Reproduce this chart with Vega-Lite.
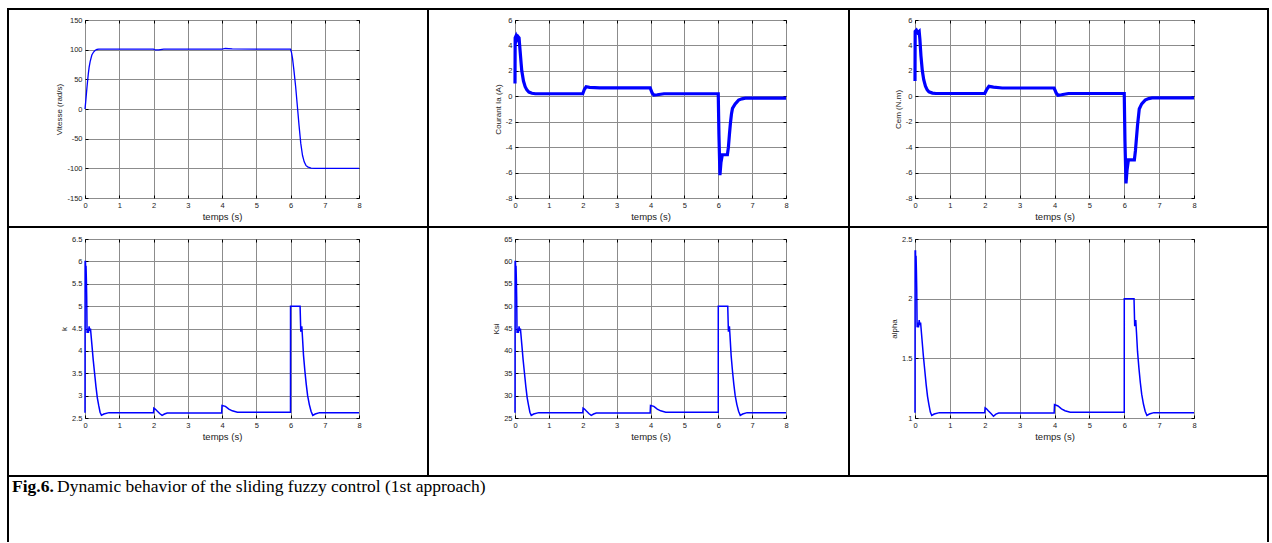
{
"$schema": "https://vega.github.io/schema/vega-lite/v6.json",
"background": "white",
"padding": {"left": 7, "top": 8, "right": 0, "bottom": 0},
"autosize": {"type": "pad"},
"columns": 13,
"spacing": 0,
"bounds": "flush",
"datasets": {
"e": [],
"vit": [{"t":0,"v":0},{"t":0.02,"v":12},{"t":0.04,"v":25},{"t":0.06,"v":38},{"t":0.08,"v":50},{"t":0.1,"v":61},{"t":0.12,"v":70},{"t":0.15,"v":80},{"t":0.2,"v":91},{"t":0.25,"v":96},{"t":0.3,"v":99},{"t":0.35,"v":100.3},{"t":0.4,"v":100.8},{"t":0.5,"v":101},{"t":2.0,"v":101},{"t":2.05,"v":99.5},{"t":2.15,"v":99.5},{"t":2.3,"v":100.8},{"t":4.0,"v":101},{"t":4.1,"v":102},{"t":4.3,"v":101.5},{"t":5.0,"v":101},{"t":6.0,"v":101},{"t":6.03,"v":95},{"t":6.06,"v":85},{"t":6.1,"v":65},{"t":6.15,"v":38},{"t":6.2,"v":5},{"t":6.25,"v":-28},{"t":6.3,"v":-58},{"t":6.35,"v":-78},{"t":6.4,"v":-89},{"t":6.45,"v":-95},{"t":6.5,"v":-97.5},{"t":6.6,"v":-99.5},{"t":6.7,"v":-100},{"t":8,"v":-100}],
"ia": [{"t":0,"v":1},{"t":0.005,"v":4.6},{"t":0.03,"v":4.75},{"t":0.06,"v":4.5},{"t":0.09,"v":4.7},{"t":0.12,"v":4.6},{"t":0.15,"v":3.6},{"t":0.18,"v":2.6},{"t":0.2,"v":2.0},{"t":0.25,"v":1.2},{"t":0.3,"v":0.75},{"t":0.35,"v":0.5},{"t":0.41,"v":0.33},{"t":0.5,"v":0.24},{"t":0.6,"v":0.2},{"t":2.0,"v":0.2},{"t":2.05,"v":0.55},{"t":2.1,"v":0.75},{"t":2.2,"v":0.7},{"t":2.5,"v":0.66},{"t":3.99,"v":0.66},{"t":4.05,"v":0.25},{"t":4.1,"v":0.1},{"t":4.2,"v":0.12},{"t":4.4,"v":0.2},{"t":6.0,"v":0.2},{"t":6.02,"v":-3},{"t":6.05,"v":-6.2},{"t":6.08,"v":-5.2},{"t":6.12,"v":-4.6},{"t":6.27,"v":-4.6},{"t":6.3,"v":-4.0},{"t":6.33,"v":-3.0},{"t":6.36,"v":-2.1},{"t":6.39,"v":-1.4},{"t":6.42,"v":-0.95},{"t":6.5,"v":-0.6},{"t":6.6,"v":-0.3},{"t":6.7,"v":-0.2},{"t":6.8,"v":-0.15},{"t":8,"v":-0.15}],
"cem": [{"t":0,"v":1.2},{"t":0.005,"v":5.1},{"t":0.04,"v":5.2},{"t":0.08,"v":5.0},{"t":0.12,"v":5.1},{"t":0.14,"v":4.5},{"t":0.17,"v":3.2},{"t":0.21,"v":2.0},{"t":0.25,"v":1.3},{"t":0.3,"v":0.8},{"t":0.35,"v":0.5},{"t":0.4,"v":0.35},{"t":0.5,"v":0.25},{"t":0.6,"v":0.22},{"t":2.0,"v":0.22},{"t":2.05,"v":0.5},{"t":2.12,"v":0.78},{"t":2.25,"v":0.72},{"t":2.5,"v":0.65},{"t":3.99,"v":0.65},{"t":4.05,"v":0.25},{"t":4.1,"v":0.08},{"t":4.2,"v":0.12},{"t":4.4,"v":0.22},{"t":6.0,"v":0.22},{"t":6.02,"v":-3.5},{"t":6.05,"v":-6.85},{"t":6.08,"v":-5.8},{"t":6.12,"v":-5.0},{"t":6.29,"v":-5.0},{"t":6.32,"v":-4.3},{"t":6.35,"v":-3.3},{"t":6.38,"v":-2.3},{"t":6.43,"v":-1.0},{"t":6.5,"v":-0.6},{"t":6.6,"v":-0.3},{"t":6.7,"v":-0.18},{"t":6.8,"v":-0.13},{"t":8,"v":-0.13}],
"k": [{"t":0,"v":2.62},{"t":0.003,"v":6.0},{"t":0.015,"v":6.0},{"t":0.02,"v":5.6},{"t":0.03,"v":5.9},{"t":0.04,"v":5.6},{"t":0.05,"v":5.2},{"t":0.06,"v":4.4},{"t":0.08,"v":4.5},{"t":0.1,"v":4.4},{"t":0.12,"v":4.55},{"t":0.14,"v":4.45},{"t":0.16,"v":4.5},{"t":0.2,"v":4.15},{"t":0.24,"v":3.8},{"t":0.28,"v":3.5},{"t":0.32,"v":3.2},{"t":0.36,"v":2.95},{"t":0.4,"v":2.78},{"t":0.44,"v":2.63},{"t":0.48,"v":2.56},{"t":0.55,"v":2.59},{"t":0.7,"v":2.62},{"t":2.0,"v":2.62},{"t":2.01,"v":2.72},{"t":2.05,"v":2.7},{"t":2.1,"v":2.66},{"t":2.18,"v":2.6},{"t":2.25,"v":2.56},{"t":2.32,"v":2.59},{"t":2.4,"v":2.61},{"t":3.99,"v":2.61},{"t":4.0,"v":2.78},{"t":4.1,"v":2.76},{"t":4.2,"v":2.7},{"t":4.3,"v":2.66},{"t":4.45,"v":2.63},{"t":6.0,"v":2.63},{"t":6.001,"v":5.0},{"t":6.28,"v":5.0},{"t":6.3,"v":4.43},{"t":6.31,"v":4.5},{"t":6.33,"v":4.55},{"t":6.35,"v":4.3},{"t":6.38,"v":3.9},{"t":6.42,"v":3.55},{"t":6.46,"v":3.25},{"t":6.5,"v":3.0},{"t":6.55,"v":2.8},{"t":6.6,"v":2.65},{"t":6.65,"v":2.56},{"t":6.72,"v":2.59},{"t":6.85,"v":2.62},{"t":8,"v":2.62}],
"ksi": [{"t":0,"v":26.2},{"t":0.003,"v":60},{"t":0.015,"v":60},{"t":0.02,"v":56},{"t":0.03,"v":59},{"t":0.04,"v":56},{"t":0.05,"v":52},{"t":0.06,"v":44},{"t":0.08,"v":45},{"t":0.1,"v":44},{"t":0.12,"v":45.5},{"t":0.14,"v":44.5},{"t":0.16,"v":45},{"t":0.2,"v":41.5},{"t":0.24,"v":38},{"t":0.28,"v":35},{"t":0.32,"v":32},{"t":0.36,"v":29.5},{"t":0.4,"v":27.8},{"t":0.44,"v":26.3},{"t":0.48,"v":25.6},{"t":0.55,"v":25.9},{"t":0.7,"v":26.2},{"t":2.0,"v":26.2},{"t":2.01,"v":27.2},{"t":2.05,"v":27},{"t":2.1,"v":26.6},{"t":2.18,"v":26},{"t":2.25,"v":25.6},{"t":2.32,"v":25.9},{"t":2.4,"v":26.1},{"t":3.99,"v":26.1},{"t":4.0,"v":27.8},{"t":4.1,"v":27.6},{"t":4.2,"v":27},{"t":4.3,"v":26.6},{"t":4.45,"v":26.3},{"t":6.0,"v":26.3},{"t":6.001,"v":50},{"t":6.28,"v":50},{"t":6.3,"v":44.3},{"t":6.31,"v":45},{"t":6.33,"v":45.5},{"t":6.35,"v":43},{"t":6.38,"v":39},{"t":6.42,"v":35.5},{"t":6.46,"v":32.5},{"t":6.5,"v":30},{"t":6.55,"v":28},{"t":6.6,"v":26.5},{"t":6.65,"v":25.6},{"t":6.72,"v":25.9},{"t":6.85,"v":26.2},{"t":8,"v":26.2}],
"alpha": [{"t":0,"v":1.045},{"t":0.003,"v":2.4},{"t":0.015,"v":2.4},{"t":0.02,"v":2.24},{"t":0.03,"v":2.36},{"t":0.04,"v":2.24},{"t":0.05,"v":2.08},{"t":0.06,"v":1.76},{"t":0.08,"v":1.8},{"t":0.1,"v":1.76},{"t":0.12,"v":1.82},{"t":0.14,"v":1.78},{"t":0.16,"v":1.8},{"t":0.2,"v":1.66},{"t":0.24,"v":1.52},{"t":0.28,"v":1.4},{"t":0.32,"v":1.28},{"t":0.36,"v":1.18},{"t":0.4,"v":1.11},{"t":0.44,"v":1.049},{"t":0.48,"v":1.021},{"t":0.55,"v":1.033},{"t":0.7,"v":1.045},{"t":2.0,"v":1.045},{"t":2.01,"v":1.085},{"t":2.05,"v":1.077},{"t":2.1,"v":1.061},{"t":2.18,"v":1.037},{"t":2.25,"v":1.015},{"t":2.32,"v":1.033},{"t":2.4,"v":1.041},{"t":3.99,"v":1.041},{"t":4.0,"v":1.112},{"t":4.1,"v":1.101},{"t":4.2,"v":1.077},{"t":4.3,"v":1.061},{"t":4.45,"v":1.049},{"t":6.0,"v":1.049},{"t":6.001,"v":2.0},{"t":6.28,"v":2.0},{"t":6.3,"v":1.77},{"t":6.31,"v":1.8},{"t":6.33,"v":1.82},{"t":6.35,"v":1.72},{"t":6.38,"v":1.56},{"t":6.42,"v":1.42},{"t":6.46,"v":1.3},{"t":6.5,"v":1.2},{"t":6.55,"v":1.117},{"t":6.6,"v":1.057},{"t":6.65,"v":1.021},{"t":6.72,"v":1.033},{"t":6.85,"v":1.045},{"t":8,"v":1.045}]
},
"config": {
"view": {"stroke": null},
"axis": {"labelFont": "Liberation Sans", "labelFontSize": 7.5, "labelColor": "#222", "titleFont": "Liberation Sans", "titleFontWeight": "normal", "titleColor": "#222", "grid": true, "gridColor": "#8c8c8c", "gridOpacity": 1, "gridWidth": 1, "domain": false, "ticks": true, "tickColor": "#000", "tickSize": -3, "labelPadding": 6, "titlePadding": 3, "labelFlush": false, "labelOverlap": false,
 "labelExpr": "datum.value < 0 ? '-' + format(-datum.value, '~g') : format(datum.value, '~g')"},
"axisX": {"titleFontSize": 9.5},
"axisY": {"titleFontSize": 8}
},
"concat": [
{"width":2,"height":2,"data":{"name":"e"},"mark":"point","view":{"fill":"#000"}},
{"width":76,"height":2,"data":{"name":"e"},"mark":"point","view":{"fill":"#000"}},
{"width":274,"height":2,"data":{"name":"e"},"mark":"point","view":{"fill":"#000"}},
{"width":68,"height":2,"data":{"name":"e"},"mark":"point","view":{"fill":"#000"}},
{"width":2,"height":2,"data":{"name":"e"},"mark":"point","view":{"fill":"#000"}},
{"width":86,"height":2,"data":{"name":"e"},"mark":"point","view":{"fill":"#000"}},
{"width":271,"height":2,"data":{"name":"e"},"mark":"point","view":{"fill":"#000"}},
{"width":62,"height":2,"data":{"name":"e"},"mark":"point","view":{"fill":"#000"}},
{"width":2,"height":2,"data":{"name":"e"},"mark":"point","view":{"fill":"#000"}},
{"width":65,"height":2,"data":{"name":"e"},"mark":"point","view":{"fill":"#000"}},
{"width":279,"height":2,"data":{"name":"e"},"mark":"point","view":{"fill":"#000"}},
{"width":73,"height":2,"data":{"name":"e"},"mark":"point","view":{"fill":"#000"}},
{"width":2,"height":2,"data":{"name":"e"},"mark":"point","view":{"fill":"#000"}},

{"width":2,"height":10,"data":{"name":"e"},"mark":"point","view":{"fill":"#000"}},
{"width":76,"height":10,"data":{"name":"e"},"mark":"point"},
{"width":274,"height":10,"data":{"name":"e"},"mark":"point"},
{"width":68,"height":10,"data":{"name":"e"},"mark":"point"},
{"width":2,"height":10,"data":{"name":"e"},"mark":"point","view":{"fill":"#000"}},
{"width":86,"height":10,"data":{"name":"e"},"mark":"point"},
{"width":271,"height":10,"data":{"name":"e"},"mark":"point"},
{"width":62,"height":10,"data":{"name":"e"},"mark":"point"},
{"width":2,"height":10,"data":{"name":"e"},"mark":"point","view":{"fill":"#000"}},
{"width":65,"height":10,"data":{"name":"e"},"mark":"point"},
{"width":279,"height":10,"data":{"name":"e"},"mark":"point"},
{"width":73,"height":10,"data":{"name":"e"},"mark":"point"},
{"width":2,"height":10,"data":{"name":"e"},"mark":"point","view":{"fill":"#000"}},

{"width":2,"height":178,"data":{"name":"e"},"mark":"point","view":{"fill":"#000"}},
{"width":76,"height":178,"data":{"name":"e"},"mark":"point"},
{"width":274,"height":178,"view":{"stroke":"#000","strokeWidth":1},"data":{"name":"vit"},
 "layer":[
 {"mark":{"type":"line","color":"#0000ff","strokeWidth":1.3},
  "encoding":{"x":{"field":"t","type":"quantitative","scale":{"domain":[0,8],"nice":false},"axis":{"title":"temps (s)","values":[0,1,2,3,4,5,6,7,8]}},
  "y":{"field":"v","type":"quantitative","scale":{"domain":[-150,150],"nice":false},"axis":{"title":"Vitesse (rad/s)","values":[-150,-100,-50,0,50,100,150]}}}},
 {"mark":{"type":"line","strokeOpacity":0},
  "encoding":{"x":{"field":"t","type":"quantitative","scale":{"domain":[0,8],"nice":false},"axis":{"orient":"top","labels":false,"title":null,"grid":false,"values":[0,1,2,3,4,5,6,7,8]}},
  "y":{"field":"v","type":"quantitative","scale":{"domain":[-150,150],"nice":false},"axis":{"orient":"right","labels":false,"title":null,"grid":false,"values":[-150,-100,-50,0,50,100,150]}}}}
 ],
 "resolve":{"axis":{"x":"independent","y":"independent"}}},
{"width":68,"height":178,"data":{"name":"e"},"mark":"point"},
{"width":2,"height":178,"data":{"name":"e"},"mark":"point","view":{"fill":"#000"}},
{"width":86,"height":178,"data":{"name":"e"},"mark":"point"},
{"width":271,"height":178,"view":{"stroke":"#000","strokeWidth":1},"data":{"name":"ia"},
 "layer":[
 {"mark":{"type":"line","color":"#0000ff","strokeWidth":3.2},
  "encoding":{"x":{"field":"t","type":"quantitative","scale":{"domain":[0,8],"nice":false},"axis":{"title":"temps (s)","values":[0,1,2,3,4,5,6,7,8]}},
  "y":{"field":"v","type":"quantitative","scale":{"domain":[-8,6],"nice":false},"axis":{"title":"Courant Ia (A)","values":[-8,-6,-4,-2,0,2,4,6]}}}},
 {"mark":{"type":"line","strokeOpacity":0},
  "encoding":{"x":{"field":"t","type":"quantitative","scale":{"domain":[0,8],"nice":false},"axis":{"orient":"top","labels":false,"title":null,"grid":false,"values":[0,1,2,3,4,5,6,7,8]}},
  "y":{"field":"v","type":"quantitative","scale":{"domain":[-8,6],"nice":false},"axis":{"orient":"right","labels":false,"title":null,"grid":false,"values":[-8,-6,-4,-2,0,2,4,6]}}}}
 ],
 "resolve":{"axis":{"x":"independent","y":"independent"}}},
{"width":62,"height":178,"data":{"name":"e"},"mark":"point"},
{"width":2,"height":178,"data":{"name":"e"},"mark":"point","view":{"fill":"#000"}},
{"width":65,"height":178,"data":{"name":"e"},"mark":"point"},
{"width":279,"height":178,"view":{"stroke":"#000","strokeWidth":1},"data":{"name":"cem"},
 "layer":[
 {"mark":{"type":"line","color":"#0000ff","strokeWidth":3.2},
  "encoding":{"x":{"field":"t","type":"quantitative","scale":{"domain":[0,8],"nice":false},"axis":{"title":"temps (s)","values":[0,1,2,3,4,5,6,7,8]}},
  "y":{"field":"v","type":"quantitative","scale":{"domain":[-8,6],"nice":false},"axis":{"title":"Cem (N.m)","values":[-8,-6,-4,-2,0,2,4,6]}}}},
 {"mark":{"type":"line","strokeOpacity":0},
  "encoding":{"x":{"field":"t","type":"quantitative","scale":{"domain":[0,8],"nice":false},"axis":{"orient":"top","labels":false,"title":null,"grid":false,"values":[0,1,2,3,4,5,6,7,8]}},
  "y":{"field":"v","type":"quantitative","scale":{"domain":[-8,6],"nice":false},"axis":{"orient":"right","labels":false,"title":null,"grid":false,"values":[-8,-6,-4,-2,0,2,4,6]}}}}
 ],
 "resolve":{"axis":{"x":"independent","y":"independent"}}},
{"width":73,"height":178,"data":{"name":"e"},"mark":"point"},
{"width":2,"height":178,"data":{"name":"e"},"mark":"point","view":{"fill":"#000"}},

{"width":2,"height":28,"data":{"name":"e"},"mark":"point","view":{"fill":"#000"}},
{"width":76,"height":28,"data":{"name":"e"},"mark":"point"},
{"width":274,"height":28,"data":{"name":"e"},"mark":"point"},
{"width":68,"height":28,"data":{"name":"e"},"mark":"point"},
{"width":2,"height":28,"data":{"name":"e"},"mark":"point","view":{"fill":"#000"}},
{"width":86,"height":28,"data":{"name":"e"},"mark":"point"},
{"width":271,"height":28,"data":{"name":"e"},"mark":"point"},
{"width":62,"height":28,"data":{"name":"e"},"mark":"point"},
{"width":2,"height":28,"data":{"name":"e"},"mark":"point","view":{"fill":"#000"}},
{"width":65,"height":28,"data":{"name":"e"},"mark":"point"},
{"width":279,"height":28,"data":{"name":"e"},"mark":"point"},
{"width":73,"height":28,"data":{"name":"e"},"mark":"point"},
{"width":2,"height":28,"data":{"name":"e"},"mark":"point","view":{"fill":"#000"}},

{"width":2,"height":2,"data":{"name":"e"},"mark":"point","view":{"fill":"#000"}},
{"width":76,"height":2,"data":{"name":"e"},"mark":"point","view":{"fill":"#000"}},
{"width":274,"height":2,"data":{"name":"e"},"mark":"point","view":{"fill":"#000"}},
{"width":68,"height":2,"data":{"name":"e"},"mark":"point","view":{"fill":"#000"}},
{"width":2,"height":2,"data":{"name":"e"},"mark":"point","view":{"fill":"#000"}},
{"width":86,"height":2,"data":{"name":"e"},"mark":"point","view":{"fill":"#000"}},
{"width":271,"height":2,"data":{"name":"e"},"mark":"point","view":{"fill":"#000"}},
{"width":62,"height":2,"data":{"name":"e"},"mark":"point","view":{"fill":"#000"}},
{"width":2,"height":2,"data":{"name":"e"},"mark":"point","view":{"fill":"#000"}},
{"width":65,"height":2,"data":{"name":"e"},"mark":"point","view":{"fill":"#000"}},
{"width":279,"height":2,"data":{"name":"e"},"mark":"point","view":{"fill":"#000"}},
{"width":73,"height":2,"data":{"name":"e"},"mark":"point","view":{"fill":"#000"}},
{"width":2,"height":2,"data":{"name":"e"},"mark":"point","view":{"fill":"#000"}},

{"width":2,"height":11,"data":{"name":"e"},"mark":"point","view":{"fill":"#000"}},
{"width":76,"height":11,"data":{"name":"e"},"mark":"point"},
{"width":274,"height":11,"data":{"name":"e"},"mark":"point"},
{"width":68,"height":11,"data":{"name":"e"},"mark":"point"},
{"width":2,"height":11,"data":{"name":"e"},"mark":"point","view":{"fill":"#000"}},
{"width":86,"height":11,"data":{"name":"e"},"mark":"point"},
{"width":271,"height":11,"data":{"name":"e"},"mark":"point"},
{"width":62,"height":11,"data":{"name":"e"},"mark":"point"},
{"width":2,"height":11,"data":{"name":"e"},"mark":"point","view":{"fill":"#000"}},
{"width":65,"height":11,"data":{"name":"e"},"mark":"point"},
{"width":279,"height":11,"data":{"name":"e"},"mark":"point"},
{"width":73,"height":11,"data":{"name":"e"},"mark":"point"},
{"width":2,"height":11,"data":{"name":"e"},"mark":"point","view":{"fill":"#000"}},

{"width":2,"height":179,"data":{"name":"e"},"mark":"point","view":{"fill":"#000"}},
{"width":76,"height":179,"data":{"name":"e"},"mark":"point"},
{"width":274,"height":179,"view":{"stroke":"#000","strokeWidth":1},"data":{"name":"k"},
 "layer":[
 {"mark":{"type":"line","color":"#0000ff","strokeWidth":1.5},
  "encoding":{"x":{"field":"t","type":"quantitative","scale":{"domain":[0,8],"nice":false},"axis":{"title":"temps (s)","values":[0,1,2,3,4,5,6,7,8]}},
  "y":{"field":"v","type":"quantitative","scale":{"domain":[2.5,6.5],"nice":false,"zero":false},"axis":{"title":"k","values":[2.5,3,3.5,4,4.5,5,5.5,6,6.5]}}}},
 {"mark":{"type":"line","strokeOpacity":0},
  "encoding":{"x":{"field":"t","type":"quantitative","scale":{"domain":[0,8],"nice":false},"axis":{"orient":"top","labels":false,"title":null,"grid":false,"values":[0,1,2,3,4,5,6,7,8]}},
  "y":{"field":"v","type":"quantitative","scale":{"domain":[2.5,6.5],"nice":false,"zero":false},"axis":{"orient":"right","labels":false,"title":null,"grid":false,"values":[2.5,3,3.5,4,4.5,5,5.5,6,6.5]}}}}
 ],
 "resolve":{"axis":{"x":"independent","y":"independent"}}},
{"width":68,"height":179,"data":{"name":"e"},"mark":"point"},
{"width":2,"height":179,"data":{"name":"e"},"mark":"point","view":{"fill":"#000"}},
{"width":86,"height":179,"data":{"name":"e"},"mark":"point"},
{"width":271,"height":179,"view":{"stroke":"#000","strokeWidth":1},"data":{"name":"ksi"},
 "layer":[
 {"mark":{"type":"line","color":"#0000ff","strokeWidth":1.5},
  "encoding":{"x":{"field":"t","type":"quantitative","scale":{"domain":[0,8],"nice":false},"axis":{"title":"temps (s)","values":[0,1,2,3,4,5,6,7,8]}},
  "y":{"field":"v","type":"quantitative","scale":{"domain":[25,65],"nice":false,"zero":false},"axis":{"title":"Ksi","values":[25,30,35,40,45,50,55,60,65]}}}},
 {"mark":{"type":"line","strokeOpacity":0},
  "encoding":{"x":{"field":"t","type":"quantitative","scale":{"domain":[0,8],"nice":false},"axis":{"orient":"top","labels":false,"title":null,"grid":false,"values":[0,1,2,3,4,5,6,7,8]}},
  "y":{"field":"v","type":"quantitative","scale":{"domain":[25,65],"nice":false,"zero":false},"axis":{"orient":"right","labels":false,"title":null,"grid":false,"values":[25,30,35,40,45,50,55,60,65]}}}}
 ],
 "resolve":{"axis":{"x":"independent","y":"independent"}}},
{"width":62,"height":179,"data":{"name":"e"},"mark":"point"},
{"width":2,"height":179,"data":{"name":"e"},"mark":"point","view":{"fill":"#000"}},
{"width":65,"height":179,"data":{"name":"e"},"mark":"point"},
{"width":279,"height":179,"view":{"stroke":"#000","strokeWidth":1},"data":{"name":"alpha"},
 "layer":[
 {"mark":{"type":"line","color":"#0000ff","strokeWidth":1.5},
  "encoding":{"x":{"field":"t","type":"quantitative","scale":{"domain":[0,8],"nice":false},"axis":{"title":"temps (s)","values":[0,1,2,3,4,5,6,7,8]}},
  "y":{"field":"v","type":"quantitative","scale":{"domain":[1,2.5],"nice":false,"zero":false},"axis":{"title":"alpha","values":[1,1.5,2,2.5]}}}},
 {"mark":{"type":"line","strokeOpacity":0},
  "encoding":{"x":{"field":"t","type":"quantitative","scale":{"domain":[0,8],"nice":false},"axis":{"orient":"top","labels":false,"title":null,"grid":false,"values":[0,1,2,3,4,5,6,7,8]}},
  "y":{"field":"v","type":"quantitative","scale":{"domain":[1,2.5],"nice":false,"zero":false},"axis":{"orient":"right","labels":false,"title":null,"grid":false,"values":[1,1.5,2,2.5]}}}}
 ],
 "resolve":{"axis":{"x":"independent","y":"independent"}}},
{"width":73,"height":179,"data":{"name":"e"},"mark":"point"},
{"width":2,"height":179,"data":{"name":"e"},"mark":"point","view":{"fill":"#000"}},

{"width":2,"height":57,"data":{"name":"e"},"mark":"point","view":{"fill":"#000"}},
{"width":76,"height":57,"data":{"name":"e"},"mark":"point"},
{"width":274,"height":57,"data":{"name":"e"},"mark":"point"},
{"width":68,"height":57,"data":{"name":"e"},"mark":"point"},
{"width":2,"height":57,"data":{"name":"e"},"mark":"point","view":{"fill":"#000"}},
{"width":86,"height":57,"data":{"name":"e"},"mark":"point"},
{"width":271,"height":57,"data":{"name":"e"},"mark":"point"},
{"width":62,"height":57,"data":{"name":"e"},"mark":"point"},
{"width":2,"height":57,"data":{"name":"e"},"mark":"point","view":{"fill":"#000"}},
{"width":65,"height":57,"data":{"name":"e"},"mark":"point"},
{"width":279,"height":57,"data":{"name":"e"},"mark":"point"},
{"width":73,"height":57,"data":{"name":"e"},"mark":"point"},
{"width":2,"height":57,"data":{"name":"e"},"mark":"point","view":{"fill":"#000"}},

{"width":2,"height":2,"data":{"name":"e"},"mark":"point","view":{"fill":"#000"}},
{"width":76,"height":2,"data":{"name":"e"},"mark":"point","view":{"fill":"#000"}},
{"width":274,"height":2,"data":{"name":"e"},"mark":"point","view":{"fill":"#000"}},
{"width":68,"height":2,"data":{"name":"e"},"mark":"point","view":{"fill":"#000"}},
{"width":2,"height":2,"data":{"name":"e"},"mark":"point","view":{"fill":"#000"}},
{"width":86,"height":2,"data":{"name":"e"},"mark":"point","view":{"fill":"#000"}},
{"width":271,"height":2,"data":{"name":"e"},"mark":"point","view":{"fill":"#000"}},
{"width":62,"height":2,"data":{"name":"e"},"mark":"point","view":{"fill":"#000"}},
{"width":2,"height":2,"data":{"name":"e"},"mark":"point","view":{"fill":"#000"}},
{"width":65,"height":2,"data":{"name":"e"},"mark":"point","view":{"fill":"#000"}},
{"width":279,"height":2,"data":{"name":"e"},"mark":"point","view":{"fill":"#000"}},
{"width":73,"height":2,"data":{"name":"e"},"mark":"point","view":{"fill":"#000"}},
{"width":2,"height":2,"data":{"name":"e"},"mark":"point","view":{"fill":"#000"}},

{"width":2,"height":65,"data":{"name":"e"},"mark":"point","view":{"fill":"#000"}},
{"width":76,"height":65,"data":{"name":"e"},"mark":"point","title":{"text":"Fig.6.","anchor":"start","font":"Liberation Serif","fontSize":17.5,"fontWeight":"bold","color":"#000","offset":-32,"baseline":"alphabetic","dx":3}},
{"width":274,"height":65,"data":{"name":"e"},"mark":"point","title":{"text":"Dynamic behavior of the sliding fuzzy control (1st approach)","anchor":"start","font":"Liberation Serif","fontSize":17.5,"fontWeight":"normal","color":"#000","offset":-32,"baseline":"alphabetic","dx":-28,"limit":0}},
{"width":68,"height":65,"data":{"name":"e"},"mark":"point"},
{"width":2,"height":65,"data":{"name":"e"},"mark":"point"},
{"width":86,"height":65,"data":{"name":"e"},"mark":"point"},
{"width":271,"height":65,"data":{"name":"e"},"mark":"point"},
{"width":62,"height":65,"data":{"name":"e"},"mark":"point"},
{"width":2,"height":65,"data":{"name":"e"},"mark":"point"},
{"width":65,"height":65,"data":{"name":"e"},"mark":"point"},
{"width":279,"height":65,"data":{"name":"e"},"mark":"point"},
{"width":73,"height":65,"data":{"name":"e"},"mark":"point"},
{"width":2,"height":65,"data":{"name":"e"},"mark":"point","view":{"fill":"#000"}}
]
}
